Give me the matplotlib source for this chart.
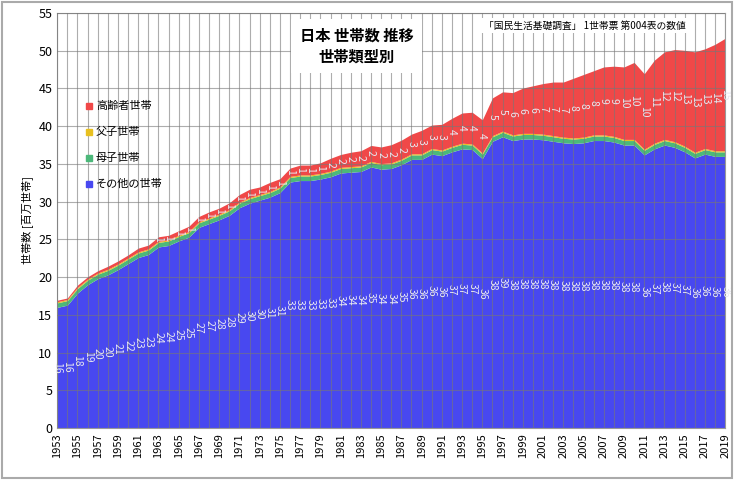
import numpy as np
import matplotlib
matplotlib.use("Agg")
import matplotlib.pyplot as plt
from matplotlib.patches import Rectangle

plt.rcParams['font.family'] = ['Noto Sans CJK JP', 'DejaVu Sans']

years = list(range(1953, 2020))
other = [16.0,16.3,17.9,19.0,19.8,20.3,21.0,21.8,22.6,23.0,24.0,24.2,24.8,25.3,26.6,27.1,27.6,28.2,29.2,29.8,
         30.2,30.6,31.2,32.6,32.8,32.8,33.0,33.3,33.8,33.9,34.0,34.6,34.3,34.4,34.9,35.6,35.6,36.3,36.1,36.6,
         37.0,36.9,35.7,38.0,38.6,38.1,38.3,38.3,38.2,38.0,37.8,37.7,37.8,38.1,38.1,37.9,37.5,37.5,36.2,37.0,
         37.5,37.2,36.6,35.8,36.3,36.0,36.0]
mother = [0.6]*25 + [0.6]*20 + [0.6]*22
father = [0.15]*67
elderly = [0.2,0.2,0.3,0.3,0.3,0.4,0.4,0.4,0.5,0.5,0.6,0.6,0.6,0.7,0.7,0.8,0.8,0.9,1.0,1.1,
           1.0,1.2,1.1,1.1,1.3,1.3,1.4,1.7,1.7,1.9,2.0,2.1,2.2,2.4,2.5,2.6,3.1,3.1,3.4,3.7,
           4.0,4.2,4.4,5.0,5.2,5.6,6.0,6.3,6.7,7.1,7.3,7.9,8.3,8.5,9.0,9.3,9.6,10.2,10.0,11.0,
           11.6,12.2,12.7,13.3,13.2,14.1,14.9]
series = [("その他の世帯", other, "#4848f0"), ("母子世帯", mother, "#4cb87a"),
          ("父子世帯", father, "#e8c020"), ("高齢者世帯", elderly, "#f04848")]

fig = plt.figure(figsize=(7.34, 4.80), dpi=100)
ax = fig.add_axes([0.078, 0.108, 0.91, 0.865])
x = np.array(years)
base = np.zeros(len(years))
handles = []
for name, vals, col in series:
    v = np.array(vals)
    ax.fill_between(x, base, base + v, color=col, lw=0, zorder=2)
    handles.append((name, col))
    if name in ("その他の世帯", "高齢者世帯"):
        for xi, b, vi in zip(x, base, v):
            if round(vi) >= 1:
                ax.text(xi, b + vi / 2, str(int(round(vi))), rotation=-90, ha='center', va='center',
                        fontsize=7.5, color='#e8e8f0', zorder=4)
    base = base + v

ax.set_xlim(1953, 2019)
ax.set_ylim(0, 55)
ax.set_yticks(range(0, 56, 5))
ax.set_xticks(range(1953, 2020, 2))
ax.set_xticklabels([str(y) for y in range(1953, 2020, 2)], rotation=90, fontsize=8)
ax.tick_params(axis='y', labelsize=9, length=0)
ax.tick_params(axis='x', length=0)
ax.set_xticks(range(1953, 2020), minor=True)
ax.grid(True, which='both', axis='x', color='#777777', lw=0.8, zorder=3, alpha=0.6)
ax.grid(True, which='major', axis='y', color='#777777', lw=0.8, zorder=3, alpha=0.6)
ax.tick_params(which='minor', length=0)
ax.set_axisbelow(False)
for s in ax.spines.values():
    s.set_color('#999999')
ax.set_ylabel("世帯数 [百万世帯]", fontsize=8)

for i, (name, col) in enumerate(reversed(handles)):
    yy = 0.775 - i * 0.062
    ax.plot([0.048], [yy], 's', color=col, ms=4, transform=ax.transAxes, zorder=5)
    ax.text(0.058, yy, name, transform=ax.transAxes, fontsize=8, va='center', zorder=5)

ax.text(0.448, 0.92, "日本 世帯数 推移\n世帯類型別", transform=ax.transAxes, ha='center', va='center',
        fontsize=11, fontweight='bold', linespacing=1.4, zorder=6,
        bbox=dict(facecolor='white', edgecolor='none', pad=6))
ax.text(0.79, 0.97, "「国民生活基礎調査」 1世帯票 第004表の数値", transform=ax.transAxes, ha='center', va='center',
        fontsize=7, zorder=6, bbox=dict(facecolor='white', edgecolor='none', pad=2))

fig.patches.append(Rectangle((0.003, 0.004), 0.994, 0.992, transform=fig.transFigure, fill=False,
                             edgecolor='#aaaaaa', lw=1.5))
fig.savefig("out.png", dpi=100)
